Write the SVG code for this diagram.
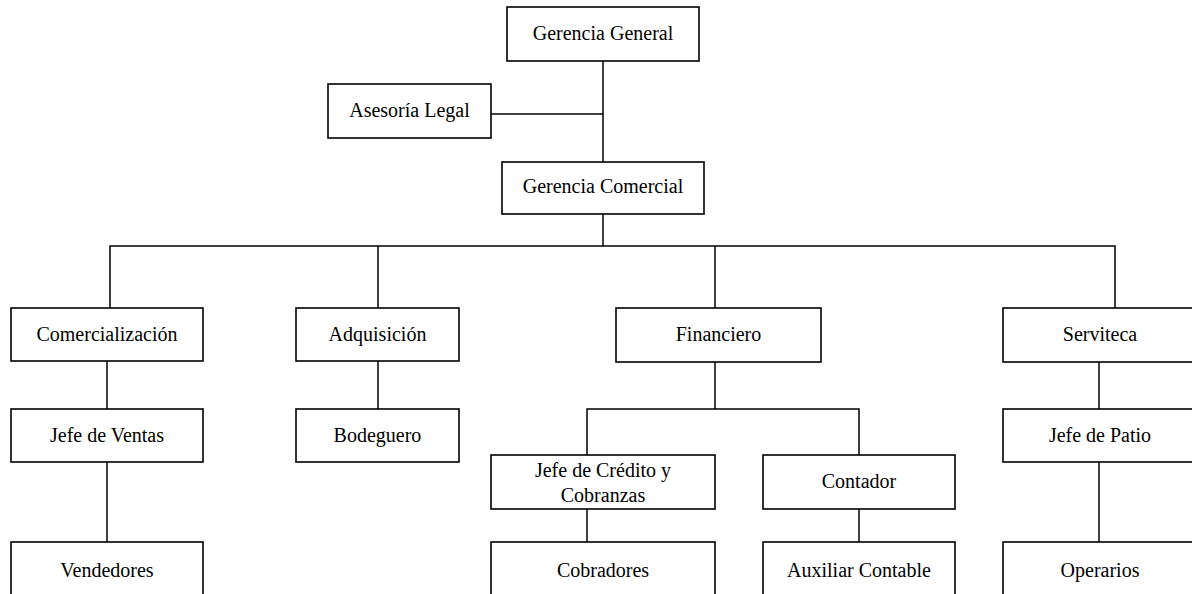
<svg xmlns="http://www.w3.org/2000/svg" width="1192" height="594" viewBox="0 0 1192 594">
<style>
.box{fill:#fff;stroke:#000;stroke-width:1.6}
.lbl{font-family:"Liberation Serif","Times New Roman",serif;font-size:20px;fill:#000;text-anchor:middle}
.con{stroke:#000;stroke-width:1.5;fill:none}
</style>
<rect width="1192" height="594" fill="#fff"/>
<g id="connectors">
<path class="con" d="M603 61V246"/>
<path class="con" d="M491 114H603"/>
<path class="con" d="M110 308V246H1115V308"/>
<path class="con" d="M378 246V308"/>
<path class="con" d="M715 246V308"/>
<path class="con" d="M107 361V409"/>
<path class="con" d="M107 462V542"/>
<path class="con" d="M378 361V409"/>
<path class="con" d="M715 362V409"/>
<path class="con" d="M587 455V409H859V455"/>
<path class="con" d="M587 509V542"/>
<path class="con" d="M859 509V542"/>
<path class="con" d="M1099 362V409"/>
<path class="con" d="M1099 462V542"/>
</g>
<g id="gerencia-general"><rect class="box" x="507" y="7" width="192" height="54"/><text class="lbl" x="603" y="40">Gerencia General</text></g>
<g id="asesoria-legal"><rect class="box" x="328" y="84" width="163" height="54"/><text class="lbl" x="409.5" y="117">Asesoría Legal</text></g>
<g id="gerencia-comercial"><rect class="box" x="502" y="162" width="202" height="52"/><text class="lbl" x="603" y="193">Gerencia Comercial</text></g>
<g id="comercializacion"><rect class="box" x="11" y="308" width="192" height="53"/><text class="lbl" x="107" y="341">Comercialización</text></g>
<g id="adquisicion"><rect class="box" x="296" y="308" width="163" height="53"/><text class="lbl" x="377.5" y="341">Adquisición</text></g>
<g id="financiero"><rect class="box" x="616" y="308" width="205" height="54"/><text class="lbl" x="718.5" y="341">Financiero</text></g>
<g id="serviteca"><rect class="box" x="1003" y="308" width="200" height="54"/><text class="lbl" x="1100" y="341">Serviteca</text></g>
<g id="jefe-ventas"><rect class="box" x="11" y="409" width="192" height="53"/><text class="lbl" x="107" y="442">Jefe de Ventas</text></g>
<g id="bodeguero"><rect class="box" x="296" y="409" width="163" height="53"/><text class="lbl" x="377.5" y="442">Bodeguero</text></g>
<g id="jefe-credito"><rect class="box" x="491" y="455" width="224" height="54"/><text class="lbl" x="603" y="477">Jefe de Crédito y</text><text class="lbl" x="603" y="502">Cobranzas</text></g>
<g id="contador"><rect class="box" x="763" y="455" width="192" height="54"/><text class="lbl" x="859" y="488">Contador</text></g>
<g id="jefe-patio"><rect class="box" x="1003" y="409" width="200" height="53"/><text class="lbl" x="1100" y="442">Jefe de Patio</text></g>
<g id="vendedores"><rect class="box" x="11" y="542" width="192" height="60"/><text class="lbl" x="107" y="577">Vendedores</text></g>
<g id="cobradores"><rect class="box" x="491" y="542" width="224" height="60"/><text class="lbl" x="603" y="577">Cobradores</text></g>
<g id="auxiliar-contable"><rect class="box" x="763" y="542" width="192" height="60"/><text class="lbl" x="859" y="577">Auxiliar Contable</text></g>
<g id="operarios"><rect class="box" x="1003" y="542" width="200" height="60"/><text class="lbl" x="1100" y="577">Operarios</text></g>
</svg>
